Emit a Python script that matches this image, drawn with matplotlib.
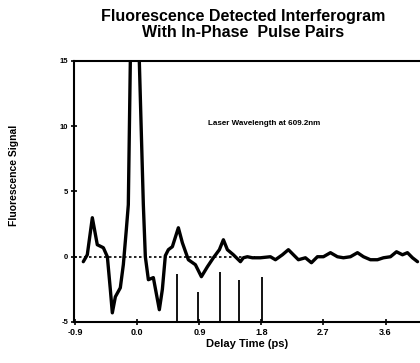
import matplotlib
matplotlib.use("Agg")
import matplotlib.pyplot as plt
import numpy as np

plt.rcParams['font.family'] = ['Liberation Sans', 'DejaVu Sans']

# Interferogram trace: delay (ps) vs fluorescence signal
delay = [-0.784, -0.726, -0.653, -0.581, -0.493, -0.435, -0.392, -0.363, -0.319,
         -0.247, -0.203, -0.160, -0.131, -0.102, -0.044, 0.029, 0.087, 0.116,
         0.160, 0.232, 0.319, 0.363, 0.406, 0.450, 0.508, 0.595, 0.653, 0.740,
         0.842, 0.929, 1.016, 1.103, 1.190, 1.248, 1.306, 1.393, 1.495, 1.538,
         1.596, 1.669, 1.785, 1.930, 2.003, 2.104, 2.191, 2.264, 2.336, 2.438,
         2.525, 2.612, 2.699, 2.801, 2.902, 2.989, 3.091, 3.193, 3.280, 3.381,
         3.483, 3.570, 3.672, 3.759, 3.846, 3.918, 3.991, 4.064]
signal = [-0.38, 0.15, 2.99, 0.92, 0.69, 0.0, -2.5, -4.3, -3.07,
          -2.38, -0.6, 2.07, 3.98, 14.9, 31.0, 14.9, 3.98, 0.0,
          -1.76, -1.6, -4.06, -2.5, 0.08, 0.54, 0.77, 2.22, 1.07, -0.23,
          -0.61, -1.53, -0.77, -0.08, 0.54, 1.30, 0.54, 0.15, -0.38, -0.08,
          0.0, -0.08, -0.08, 0.0, -0.23, 0.15, 0.54, 0.15, -0.23, -0.08,
          -0.46, 0.0, 0.0, 0.31, 0.0, -0.08, 0.0, 0.31, 0.0, -0.23,
          -0.23, -0.08, 0.0, 0.38, 0.15, 0.31, -0.08, -0.38]

# Markers below the baseline
stick_delay = [0.58, 0.885, 1.205, 1.48, 1.814]
stick_top = [-1.30, -2.68, -1.15, -1.76, -1.53]

x_ticks = [-0.9, 0.0, 0.9, 1.8, 2.7, 3.6]
x_labels = ["-0.9", "0.0", "0.9", "1.8", "2.7", "3.6"]
y_ticks = [-5, 0, 5, 10, 15]
y_labels = ["-5", "0", "5", "10", "15"]

fig = plt.figure(figsize=(4.2, 3.63), dpi=100)
ax = fig.add_axes([0.176, 0.113, 0.824, 0.719])

ax.set_xlim(-0.92, 4.1)
ax.set_ylim(-5, 15)

ax.plot([-0.92, 1.7], [0, 0], color='black', lw=1.2, ls=(0, (1.5, 1.5)), zorder=1)
ax.plot(delay, signal, color='black', lw=2.4, solid_joinstyle='round',
        solid_capstyle='round', zorder=3)
ax.vlines(stick_delay, -5, stick_top, color='black', lw=1.3, zorder=2)

ax.spines['right'].set_visible(False)
for s in ('left', 'bottom', 'top'):
    ax.spines[s].set_linewidth(1.5)

ax.set_xticks(x_ticks)
ax.set_xticklabels(x_labels, fontsize=6.5, fontweight='bold')
ax.set_yticks(y_ticks)
ax.set_yticklabels(y_labels, fontsize=5.5, fontweight='bold')
ax.tick_params(axis='both', direction='inout', length=4, width=1.2, pad=2)

ax.set_xlabel("Delay Time (ps)", fontsize=8, fontweight='bold', labelpad=2)
ax.set_ylabel("Fluorescence Signal", fontsize=7.5, fontweight='bold')
ax.yaxis.set_label_coords(-0.16, 0.56)

ax.text(1.03, 10.2, "Laser Wavelength at 609.2nm", fontsize=5.8,
        fontweight='bold', ha='left', va='center')

fig.text(0.578, 0.932, "Fluorescence Detected Interferogram\nWith In-Phase  Pulse Pairs",
         ha='center', va='center', fontsize=11.5, fontweight='bold', linespacing=1.05)

fig.savefig("out.png", dpi=100)
